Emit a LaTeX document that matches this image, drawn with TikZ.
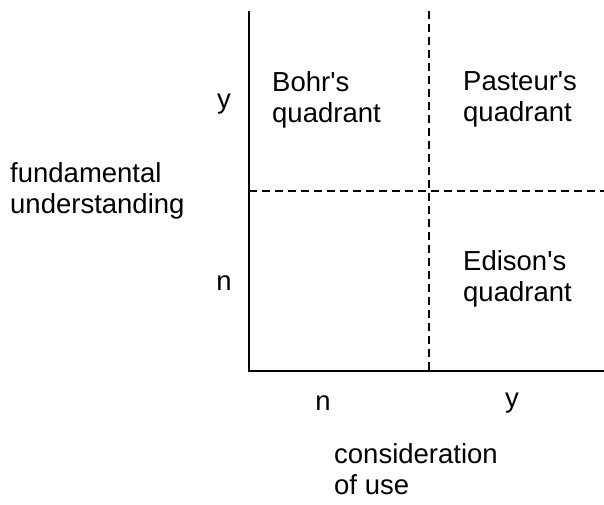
\documentclass[tikz,border=0pt]{standalone}
\usepackage{fontspec}
\setmainfont{Liberation Sans}
\usetikzlibrary{positioning}
\tikzset{
    % axis and divider lines
    axis line/.style={
        line width=2pt,
        black
    },
    divider line/.style={
        line width=1.6pt,
        dash pattern=on 8pt off 5pt,
        black
    },
    % text labels
    quad label/.style={
        inner sep=0pt,
        align=left,
        anchor=north west,
        font=\fontsize{27.5}{31}\selectfont
    },
    tick label/.style={
        inner sep=0pt,
        anchor=center,
        font=\fontsize{27.5}{31}\selectfont
    }
}
\begin{document}
\begin{tikzpicture}[x=1pt, y=-1pt]
        \useasboundingbox (0,0) rectangle (604,504);

        % Corners of the plot
        \coordinate (origin) at (249, 371);
        \coordinate (ytop) at (249, 11);
        \coordinate (xend) at (604, 371);
        \coordinate (vtop) at (429, 11);
        \coordinate (vbot) at (429, 371);
        \coordinate (hleft) at (249, 191);
        \coordinate (hright) at (604, 191);

        % Axes
        \draw[axis line] (ytop) -- (origin) -- (xend);

        % Dividers
        \draw[divider line] (vtop) -- (vbot);
        \draw[divider line] (hleft) -- (hright);

        % Quadrant labels
        \node[quad label] (bohr) at (272, 71) {Bohr\textquotesingle s\\quadrant};
        \node[quad label] (pasteur) at (463, 71) {Pasteur\textquotesingle s\\quadrant};
        \node[quad label] (edison) at (463, 250) {Edison\textquotesingle s\\quadrant};

        % Axis ticks
        \node[tick label] (fu y) at (224, 104) {y};
        \node[tick label] (fu n) at (224, 283) {n};
        \node[tick label] (cu n) at (323, 403) {n};
        \node[tick label] (cu y) at (512, 403) {y};

        % Axis titles
        \node[quad label] (fund) at (10, 162) {fundamental\\understanding};
        \node[quad label] (cons) at (334, 443) {consideration\\of use};
    \end{tikzpicture}
\end{document}
